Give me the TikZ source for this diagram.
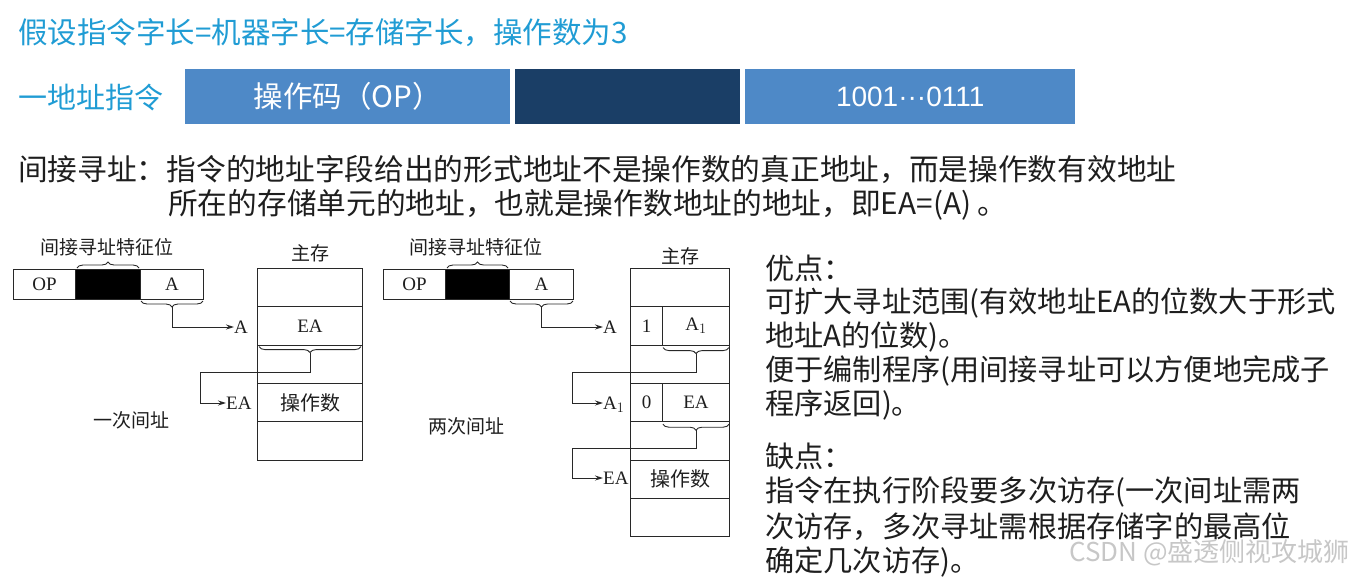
\documentclass[tikz,border=0pt]{standalone}
\usepackage{fontspec}
\setmainfont{Liberation Serif}
\newfontfamily\cjk{Noto Sans CJK SC}
\newfontfamily\lsans{Liberation Sans}
\usetikzlibrary{decorations.pathreplacing,arrows.meta}
\definecolor{titleblue}{RGB}{32,156,212}
\definecolor{boxblue}{RGB}{78,137,199}
\definecolor{boxnavy}{RGB}{26,62,102}
\definecolor{ink}{RGB}{30,30,30}
\definecolor{lineink}{RGB}{40,40,40}
\newcommand{\myfs}[1]{\fontsize{#1}{#1}\selectfont}
\begin{document}
\begin{tikzpicture}[x=1pt,y=-1pt,
  bar/.style={anchor=north west, minimum height=55, inner sep=0, text=white, font=\cjk\myfs{29.5}},
  para/.style={anchor=west, inner sep=0, text=ink, font=\cjk\myfs{29.7}},
  rt/.style={anchor=west, inner sep=0, text=ink, font=\cjk\myfs{29.2}},
  cell/.style={draw=lineink, line width=1pt, inner sep=0, anchor=north west, minimum height=30, font=\myfs{19}, text=ink},
  mcell/.style={cell, minimum height=38.3},
  lab/.style={inner sep=0, text=ink, font=\myfs{19}, text height=13, text depth=0},
  clab/.style={inner sep=0, text=ink, font=\cjk\myfs{19}},
  br/.style={draw=lineink, line width=0.9pt, decorate, decoration={brace, amplitude=6pt}},
  arr/.style={draw=lineink, line width=1pt, -{Stealth[length=8pt,width=5pt]}}
]
\useasboundingbox (0,0) rectangle (1353,582);

% title and instruction bar
\node[anchor=west, inner sep=0, text=titleblue, font=\cjk\myfs{29.5}] (title) at (18,33) {假设指令字长=机器字长=存储字长，操作数为3};
\node[anchor=west, inner sep=0, text=titleblue, font=\cjk\myfs{29}] (oneaddr) at (18,97) {一地址指令};
\node[bar, fill=boxblue, minimum width=325] (opf) at (185,69) {操作码（OP）};
\node[bar, fill=boxnavy, minimum width=225] (midf) at (515,69) {};
\node[bar, fill=boxblue, minimum width=330, font=\lsans\myfs{28}] (addrf) at (745,69) {1001···0111};

% definition
\node[para] (def1) at (18,170) {间接寻址：指令的地址字段给出的形式地址不是操作数的真正地址，而是操作数有效地址};
\node[para] (def2) at (168,205) {所在的存储单元的地址，也就是操作数地址的地址，即EA=(A) 。};

% right text
\node[rt] (pro) at (765,268) {优点：};
\node[rt] (pro1) at (765,303) {可扩大寻址范围(有效地址EA的位数大于形式};
\node[rt] (pro2) at (765,337) {地址A的位数)。};
\node[rt] (pro3) at (765,371) {便于编制程序(用间接寻址可以方便地完成子};
\node[rt] (pro4) at (765,405) {程序返回)。};
\node[rt] (con) at (765,456) {缺点：};
\node[rt] (con1) at (765,492) {指令在执行阶段要多次访存(一次间址需两};
\node[rt] (con2) at (765,527) {次访存，多次寻址需根据存储字的最高位};
\node[rt] (con3) at (765,562) {确定几次访存)。};
\node[anchor=east, inner sep=0, text=black!22, font=\cjk\myfs{26}] (wm) at (1350,553) {CSDN @盛透侧视攻城狮};

% ---------- diagram 1 ----------
\node[clab] (feat1) at (107,247) {间接寻址特征位};
\node[cell, minimum width=62] (op1) at (13,269) {OP};
\node[cell, fill=black, minimum width=65] (bit1) at (75,269) {};
\node[cell, minimum width=63] (a1) at (140,269) {A};
\draw[br] ([xshift=2pt,yshift=1pt]bit1.north west) -- ([xshift=-2pt,yshift=1pt]bit1.north east);
\draw[br] ([xshift=-1pt,yshift=-1pt]a1.south east) -- ([xshift=1pt,yshift=-1pt]a1.south west);
\coordinate (t1) at ([yshift=-7pt]a1.south);

\node[clab] (main1) at (310,253) {主存};
\node[mcell, minimum width=105] (m1r1) at (257,268) {};
\node[mcell, minimum width=105] (m1r2) at (257,306.3) {EA};
\node[mcell, minimum width=105] (m1r3) at (257,344.6) {};
\node[mcell, minimum width=105, font=\cjk\myfs{20}] (m1r4) at (257,382.9) {操作数};
\node[mcell, minimum width=105] (m1r5) at (257,421.2) {};
\draw[br] ([xshift=-2pt,yshift=-1pt]m1r2.south east) -- ([xshift=2pt,yshift=-1pt]m1r2.south west);
\coordinate (t2) at ([yshift=-7pt]m1r2.south);
\coordinate (k1) at (200,372);

\node[lab, anchor=west] (lA1) at (234,327) {A};
\node[lab, anchor=west] (lEA1) at (226,403) {EA};
\draw[arr] (t1) |- (lA1.west);
\draw[arr] (t2) |- (k1) |- (lEA1.west);
\node[clab] (once) at (131,420) {一次间址};

% ---------- diagram 2 ----------
\node[clab] (feat2) at (476,247) {间接寻址特征位};
\node[cell, minimum width=62] (op2) at (383,269) {OP};
\node[cell, fill=black, minimum width=64] (bit2) at (445,269) {};
\node[cell, minimum width=64] (a2) at (509,269) {A};
\draw[br] ([xshift=2pt,yshift=1pt]bit2.north west) -- ([xshift=-2pt,yshift=1pt]bit2.north east);
\draw[br] ([xshift=-1pt,yshift=-1pt]a2.south east) -- ([xshift=1pt,yshift=-1pt]a2.south west);
\coordinate (t3) at ([yshift=-7pt]a2.south);

\node[clab] (main2) at (680,256) {主存};
\node[mcell, minimum width=99] (m2r1) at (630,268) {};
\node[mcell, minimum width=32] (m2r2a) at (630,306.3) {1};
\node[mcell, minimum width=67] (m2r2b) at (662,306.3) {A$_1$};
\node[mcell, minimum width=99] (m2r3) at (630,344.6) {};
\node[mcell, minimum width=32] (m2r4a) at (630,382.9) {0};
\node[mcell, minimum width=67] (m2r4b) at (662,382.9) {EA};
\node[mcell, minimum width=99] (m2r5) at (630,421.2) {};
\node[mcell, minimum width=99, font=\cjk\myfs{20}] (m2r6) at (630,459.5) {操作数};
\node[mcell, minimum width=99] (m2r7) at (630,497.8) {};
\draw[br] ([xshift=-1pt,yshift=-2pt]m2r2b.south east) -- ([xshift=1pt,yshift=-2pt]m2r2b.south west);
\draw[br] ([xshift=-1pt,yshift=-2pt]m2r4b.south east) -- ([xshift=1pt,yshift=-2pt]m2r4b.south west);
\coordinate (t4) at ([yshift=-8pt]m2r2b.south);
\coordinate (t5) at ([yshift=-8pt]m2r4b.south);
\coordinate (k2) at (572,372);
\coordinate (k3) at (572,448);

\node[lab, anchor=west] (lA2) at (603,327) {A};
\node[lab, anchor=west] (lA12) at (603,403) {A$_1$};
\node[lab, anchor=west] (lEA2) at (603,478) {EA};
\draw[arr] (t3) |- (lA2.west);
\draw[arr] (t4) |- (k2) |- (lA12.west);
\draw[arr] (t5) |- (k3) |- (lEA2.west);
\node[clab] (twice) at (466,426) {两次间址};
\end{tikzpicture}
\end{document}
